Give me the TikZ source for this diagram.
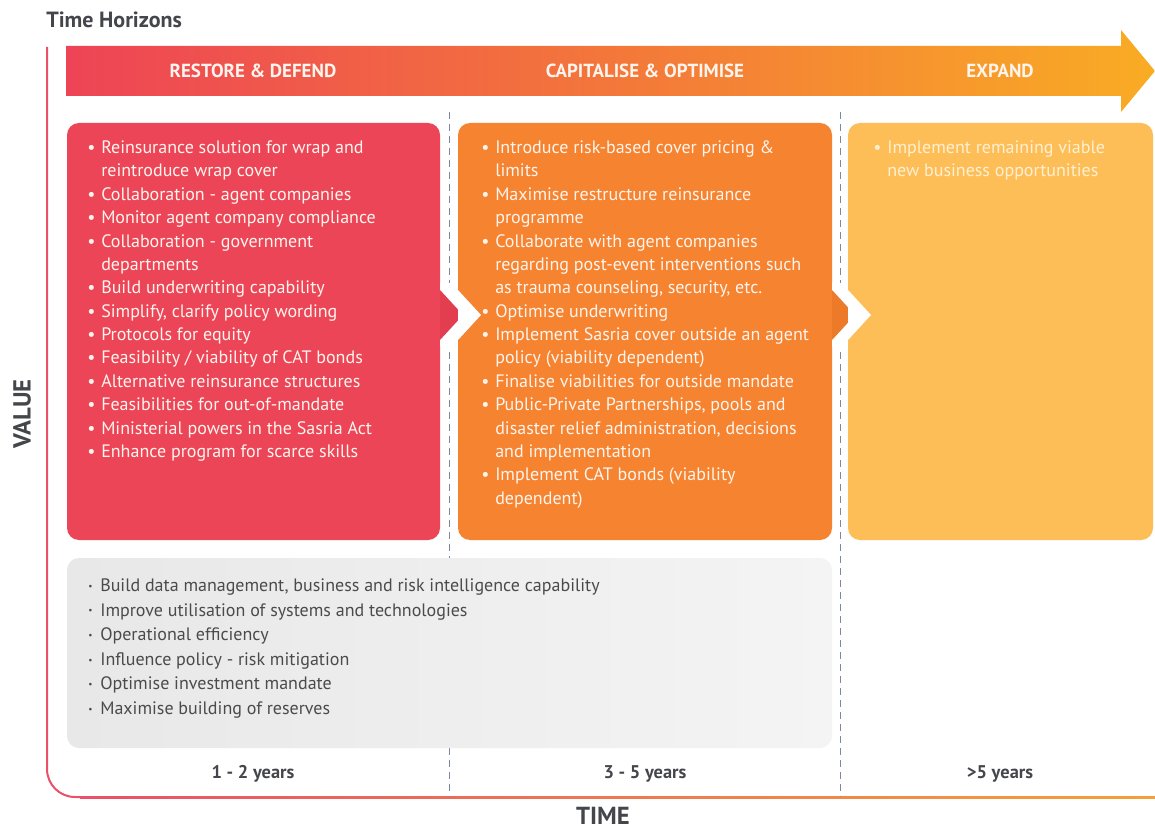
\documentclass[tikz,border=0pt]{standalone}
\usepackage{fontspec}
\setmainfont{PT Sans}
\definecolor{redbox}{HTML}{EC4557}
\definecolor{redtri}{HTML}{E23E50}
\definecolor{orbox}{HTML}{F5832F}
\definecolor{ortri}{HTML}{EC7A28}
\definecolor{ltbox}{HTML}{FDBE58}
\definecolor{arrL}{HTML}{EE4456}
\definecolor{arrM}{HTML}{F3773A}
\definecolor{arrR}{HTML}{F9AC24}
\definecolor{axred}{HTML}{EA5068}
\definecolor{axor}{HTML}{F4A03A}
\definecolor{dashc}{HTML}{7F88A2}
\definecolor{darktxt}{HTML}{45464C}
\definecolor{graytxt}{HTML}{4B4B4B}
\definecolor{wtxt}{HTML}{FFF4EE}
\definecolor{ctxt}{HTML}{FFF0D2}
\definecolor{grayL}{HTML}{E8E8E8}
\definecolor{grayR}{HTML}{F4F4F4}
\newcommand\bl{\makebox[10.5pt][l]{\textbullet}}
\newcommand\ct{\hspace*{10.5pt}}
\newcommand\gbl{\makebox[9pt][l]{\raisebox{0.25ex}{\fontsize{7}{7}\selectfont\textbullet}}}
\begin{document}
\begin{tikzpicture}[x=0.75pt,y=-0.75pt,
  itemtxt/.style={anchor=base west, inner sep=0pt, font=\fontsize{13.5}{16}\selectfont},
  headtxt/.style={inner sep=0pt, font=\bfseries\fontsize{14.2}{17}\selectfont, text=wtxt},
  yeartxt/.style={inner sep=0pt, font=\bfseries\fontsize{13.8}{16}\selectfont, text=darktxt},
  axistxt/.style={inner sep=0pt, font=\bfseries\fontsize{18.5}{22}\selectfont, text=darktxt},
  divline/.style={dashc, dash pattern=on 5pt off 4pt, line width=0.7pt}
]
\useasboundingbox (0,0) rectangle (1155,830);
\fill[white] (0,0) rectangle (1155,830);

% title
\node[anchor=west, inner sep=0pt, font=\bfseries\fontsize{16.5}{19}\selectfont, text=darktxt] (title) at (46,20) {Time Horizons};

% axes
\draw[axred, line width=1.5pt, rounded corners=21pt] (47,47) -- (47,797) -- (90,797);
\shade[left color=axred, right color=axor] (80,796) rectangle (1155,798);

% top arrow
\shade[left color=arrL, right color=arrR, middle color=arrM]
  (66,46) -- (1121,46) -- (1121,30) -- (1155,71) -- (1121,112) -- (1121,96) -- (66,96) -- cycle;
\node[headtxt] (h1) at (253,71) {RESTORE \& DEFEND};
\node[headtxt] (h2) at (645,71) {CAPITALISE \& OPTIMISE};
\node[headtxt] (h3) at (1000,71) {EXPAND};

% dashed dividers
\coordinate (d1t) at (449,112); \coordinate (d1b) at (449,797);
\coordinate (d2t) at (840,112); \coordinate (d2b) at (840,797);
\draw[divline] (d1t) -- (d1b);
\draw[divline] (d2t) -- (d2b);

% boxes
\fill[redbox, rounded corners=9pt] (67,123) rectangle (440,540);
\fill[orbox, rounded corners=9pt] (458,123) rectangle (832,540);
\fill[ltbox, rounded corners=9pt] (848,123) rectangle (1153,540);
% chevron gaps
\fill[white] (440,283) rectangle (458,347);
\fill[white] (832,283) rectangle (848,347);
\fill[redtri] (440,290) -- (463,315) -- (440,340) -- cycle;
\fill[white] (458,290) -- (481,315) -- (458,340) -- cycle;
\fill[ortri] (832,290) -- (855,315) -- (832,340) -- cycle;
\fill[white] (848,290) -- (871,315) -- (848,340) -- cycle;

% grey box
\shade[left color=grayL, right color=grayR, rounded corners=9pt] (67,558) rectangle (832,748);

% box 1 text
\foreach \t [count=\i] in {
  {\bl Reinsurance solution for wrap and},
  {\ct reintroduce wrap cover},
  {\bl Collaboration - agent companies},
  {\bl Monitor agent company compliance},
  {\bl Collaboration - government},
  {\ct departments},
  {\bl Build underwriting capability},
  {\bl Simplify, clarify policy wording},
  {\bl Protocols for equity},
  {\bl Feasibility / viability of CAT bonds},
  {\bl Alternative reinsurance structures},
  {\bl Feasibilities for out-of-mandate},
  {\bl Ministerial powers in the Sasria Act},
  {\bl Enhance program for scarce skills}}
  \node[itemtxt, text=wtxt] (a\i) at (87,{153.5+23.38*(\i-1)}) {\t};

% box 2 text
\foreach \t [count=\i] in {
  {\bl Introduce risk-based cover pricing \&},
  {\ct limits},
  {\bl Maximise restructure reinsurance},
  {\ct programme},
  {\bl Collaborate with agent companies},
  {\ct regarding post-event interventions such},
  {\ct as trauma counseling, security, etc.},
  {\bl Optimise underwriting},
  {\bl Implement Sasria cover outside an agent},
  {\ct policy (viability dependent)},
  {\bl Finalise viabilities for outside mandate},
  {\bl Public-Private Partnerships, pools and},
  {\ct disaster relief administration, decisions},
  {\ct and implementation},
  {\bl Implement CAT bonds (viability},
  {\ct dependent)}}
  \node[itemtxt, text=wtxt] (b\i) at (481,{153.5+23.38*(\i-1)}) {\t};

% box 3 text
\node[itemtxt, text=ctxt] (c1) at (873,153.5) {\bl Implement remaining viable};
\node[itemtxt, text=ctxt] (c2) at (873,176.9) {\ct new business opportunities};

% grey box text
\foreach \t [count=\i] in {
  {Build data management, business and risk intelligence capability},
  {Improve utilisation of systems and technologies},
  {Operational efficiency},
  {Influence policy - risk mitigation},
  {Optimise investment mandate},
  {Maximise building of reserves}}
  \node[itemtxt, text=graytxt] (g\i) at (88,{591.5+24.6*(\i-1)}) {\gbl\t};

% years
\node[yeartxt] (y1) at (253,774) {1 - 2 years};
\node[yeartxt] (y2) at (645,774) {3 - 5 years};
\node[yeartxt] (y3) at (1000,774) {>5 years};

% axis labels
\node[axistxt] (time) at (603,816) {TIME};
\node[axistxt, rotate=90] (value) at (22,414) {VALUE};
\end{tikzpicture}
\end{document}
